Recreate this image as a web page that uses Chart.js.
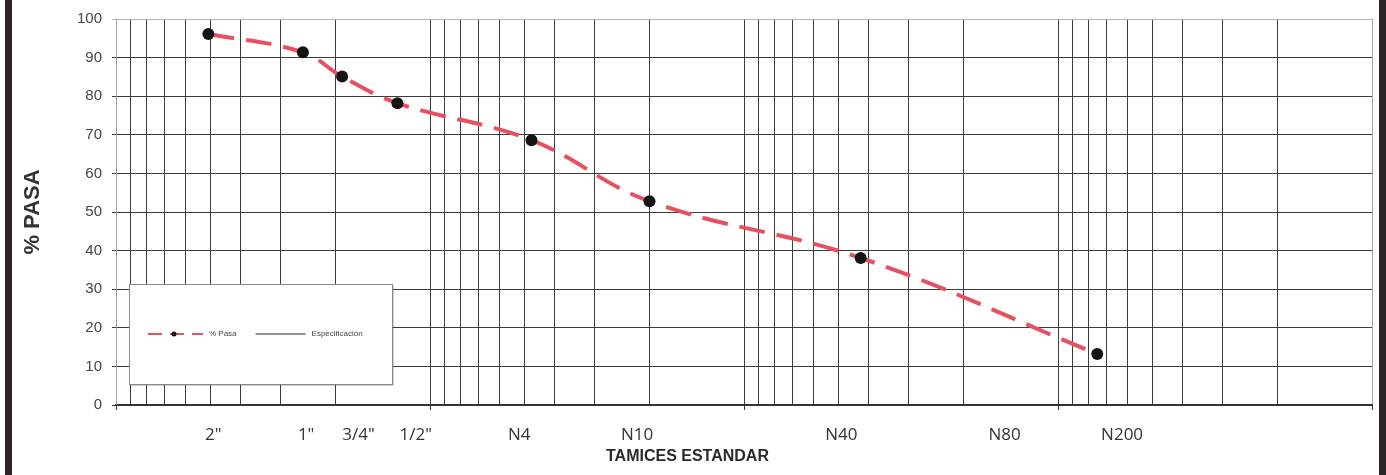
<!DOCTYPE html>
<html lang="es">
<head>
<meta charset="utf-8">
<title>Curva granulométrica</title>
<script src="https://cdn.jsdelivr.net/npm/chart.js@4.4.0/dist/chart.umd.min.js"></script>
<style>
  html, body { margin: 0; padding: 0; background: #fff; }
  #curva { display: block; }
</style>
</head>
<body>
<canvas id="curva" width="1386" height="475"></canvas>
<script>
// tamices ensayados: abertura en mm y porcentaje que pasa
var tamices = ['2"', '1"', '3/4"', '1/2"', 'N4', 'N10', 'N40', 'N200'];
var aberturas = [50.8, 25.4, 19.05, 12.7, 4.75, 2.0, 0.425, 0.075];
var porcPasa = [96.1, 91.4, 85.1, 78.2, 68.6, 52.8, 38.1, 13.2];

// rotulos del eje x y donde van (mm)
var rotulos = ['2"', '1"', '3/4"', '1/2"', 'N4', 'N10', 'N40', 'N80', 'N200'];
var rotulosMm = [49, 24.8, 16.9, 11.1, 5.2, 2.19, 0.49, 0.148, 0.0625];

// lineas de la rejilla logaritmica (0.01 a 100 mm)
var rejillaX = [];
for (var k = -2; k <= 1; k++) {
	for (var m = 1; m <= 9; m++) {
		rejillaX.push(parseFloat((m * Math.pow(10, k)).toPrecision(3)));
	}
}
rejillaX.push(100);

var puntos = aberturas.map(function(a, i){ return {x: a, y: porcPasa[i]}; });

var datos = {
	datasets: [{
		label: '% Pasa',
		data: puntos,
		borderColor: '#e8505f',
		borderWidth: 4,
		borderDash: [26, 12],
		tension: 0.4,
		pointRadius: 6,
		pointHoverRadius: 6,
		pointBackgroundColor: '#151515',
		pointBorderColor: '#151515',
		pointBorderWidth: 0,
		xAxisID: 'x',
		yAxisID: 'y'
	}, {
		label: 'Especificación',
		data: [],
		borderColor: '#222',
		borderWidth: 1,
		pointRadius: 0,
		xAxisID: 'x',
		yAxisID: 'y'
	}]
};

// leyenda en recuadro, titulo del eje x y marco lateral
var extras = {
	id: 'extras',
	afterDraw: function(chart){
		var ctx = chart.ctx, area = chart.chartArea;
		var sx = chart.scales.x;
		ctx.save();

		// marcas bajo el eje en cada decada
		ctx.strokeStyle = '#333';
		ctx.lineWidth = 1;
		rejillaX.forEach(function(v){
			if (Math.abs(Math.log10(v) - Math.round(Math.log10(v))) > 1e-9) return;
			var px = Math.round(sx.getPixelForValue(v)) + 0.5;
			ctx.beginPath();
			ctx.moveTo(px, area.bottom);
			ctx.lineTo(px, area.bottom + 5);
			ctx.stroke();
		});

		// recuadro de leyenda
		var bx = area.left + 13, by = area.bottom - 121, bw = 263, bh = 100;
		ctx.fillStyle = 'rgba(0,0,0,0.18)';
		ctx.fillRect(bx + 2, by + 2, bw, bh);
		ctx.fillStyle = '#fff';
		ctx.fillRect(bx, by, bw, bh);
		ctx.strokeStyle = '#8a8a8a';
		ctx.strokeRect(bx + 0.5, by + 0.5, bw, bh);

		var cy = by + bh / 2, x = bx + 19;
		ctx.font = '8px "Liberation Sans", Arial, sans-serif';
		ctx.textBaseline = 'middle';
		chart.data.datasets.forEach(function(ds){
			var largo = ds.borderDash ? 55 : 50;
			ctx.beginPath();
			ctx.setLineDash(ds.borderDash ? [14, 8] : []);
			ctx.strokeStyle = ds.borderColor;
			ctx.lineWidth = Math.min(ds.borderWidth, 2);
			ctx.moveTo(x, cy);
			ctx.lineTo(x + largo, cy);
			ctx.stroke();
			ctx.setLineDash([]);
			if (ds.pointRadius) {
				ctx.fillStyle = ds.pointBackgroundColor;
				ctx.beginPath();
				ctx.arc(x + 26, cy, 2.5, 0, 2 * Math.PI);
				ctx.fill();
			}
			ctx.fillStyle = '#444';
			ctx.fillText(ds.label, x + largo + 6, cy);
			x += largo + 6 + ctx.measureText(ds.label).width + 19;
		});

		// titulo del eje x
		ctx.fillStyle = '#2a2a2a';
		ctx.font = 'bold 16px "Liberation Sans", Arial, sans-serif';
		ctx.textAlign = 'center';
		ctx.fillText('TAMICES ESTANDAR', area.left + 0.455 * area.width, 457);

		// marco lateral
		ctx.fillStyle = '#2b2326';
		ctx.fillRect(5, 0, 7, chart.height);
		ctx.fillRect(chart.width - 7, 0, 7, chart.height);
		ctx.restore();
	}
};

var ctx = document.getElementById('curva').getContext('2d');
var curva = new Chart(ctx, {
	type: 'line',
	data: datos,
	plugins: [extras],
	options: {
		responsive: false,
		animation: false,
		layout: { padding: { top: 18, right: 14, left: 0, bottom: 0 } },
		plugins: {
			legend: { display: false },
			tooltip: { enabled: false }
		},
		scales: {
			x: {
				type: 'logarithmic',
				reverse: true,
				min: 0.01,
				max: 100,
				position: 'bottom',
				weight: 0,
				afterBuildTicks: function(s){ s.ticks = rejillaX.map(function(v){ return {value: v}; }); },
				ticks: { display: false },
				grid: {
					drawTicks: false,
					lineWidth: 1,
					color: function(c){
						var v = c.tick && c.tick.value;
						return (v === 100 || v === 0.01) ? '#a0a0a0' : '#3c3c3c';
					}
				},
				border: { display: true, color: '#333', width: 2 },
				afterFit: function(s){ s.height = 0; }
			},
			xr: {
				type: 'logarithmic',
				reverse: true,
				min: 0.01,
				max: 100,
				position: 'bottom',
				weight: 1,
				afterBuildTicks: function(s){ s.ticks = rotulosMm.map(function(v){ return {value: v}; }); },
				ticks: {
					autoSkip: false,
					maxRotation: 0,
					padding: 12,
					color: '#333',
					font: { family: '"Open Sans", sans-serif', size: 17 },
					callback: function(v, i){ return rotulos[i]; }
				},
				grid: { display: false },
				border: { display: false },
				afterFit: function(s){ s.height = 70; }
			},
			y: {
				min: 0,
				max: 100,
				ticks: {
					stepSize: 10,
					padding: 10,
					color: '#444',
					font: { family: '"Liberation Sans", Arial, sans-serif', size: 15 }
				},
				grid: {
					tickLength: 4,
					color: function(c){ return (c.tick && c.tick.value === 100) ? '#b5b5b5' : '#3c3c3c'; }
				},
				border: { color: '#a0a0a0' },
				title: {
					display: true,
					text: '% PASA',
					color: '#333',
					font: { family: '"Liberation Sans", Arial, sans-serif', size: 22, weight: 'bold' },
					padding: { top: 20, bottom: 0 }
				},
				afterFit: function(s){ s.width = 116; }
			}
		}
	}
});
</script>
</body>
</html>
